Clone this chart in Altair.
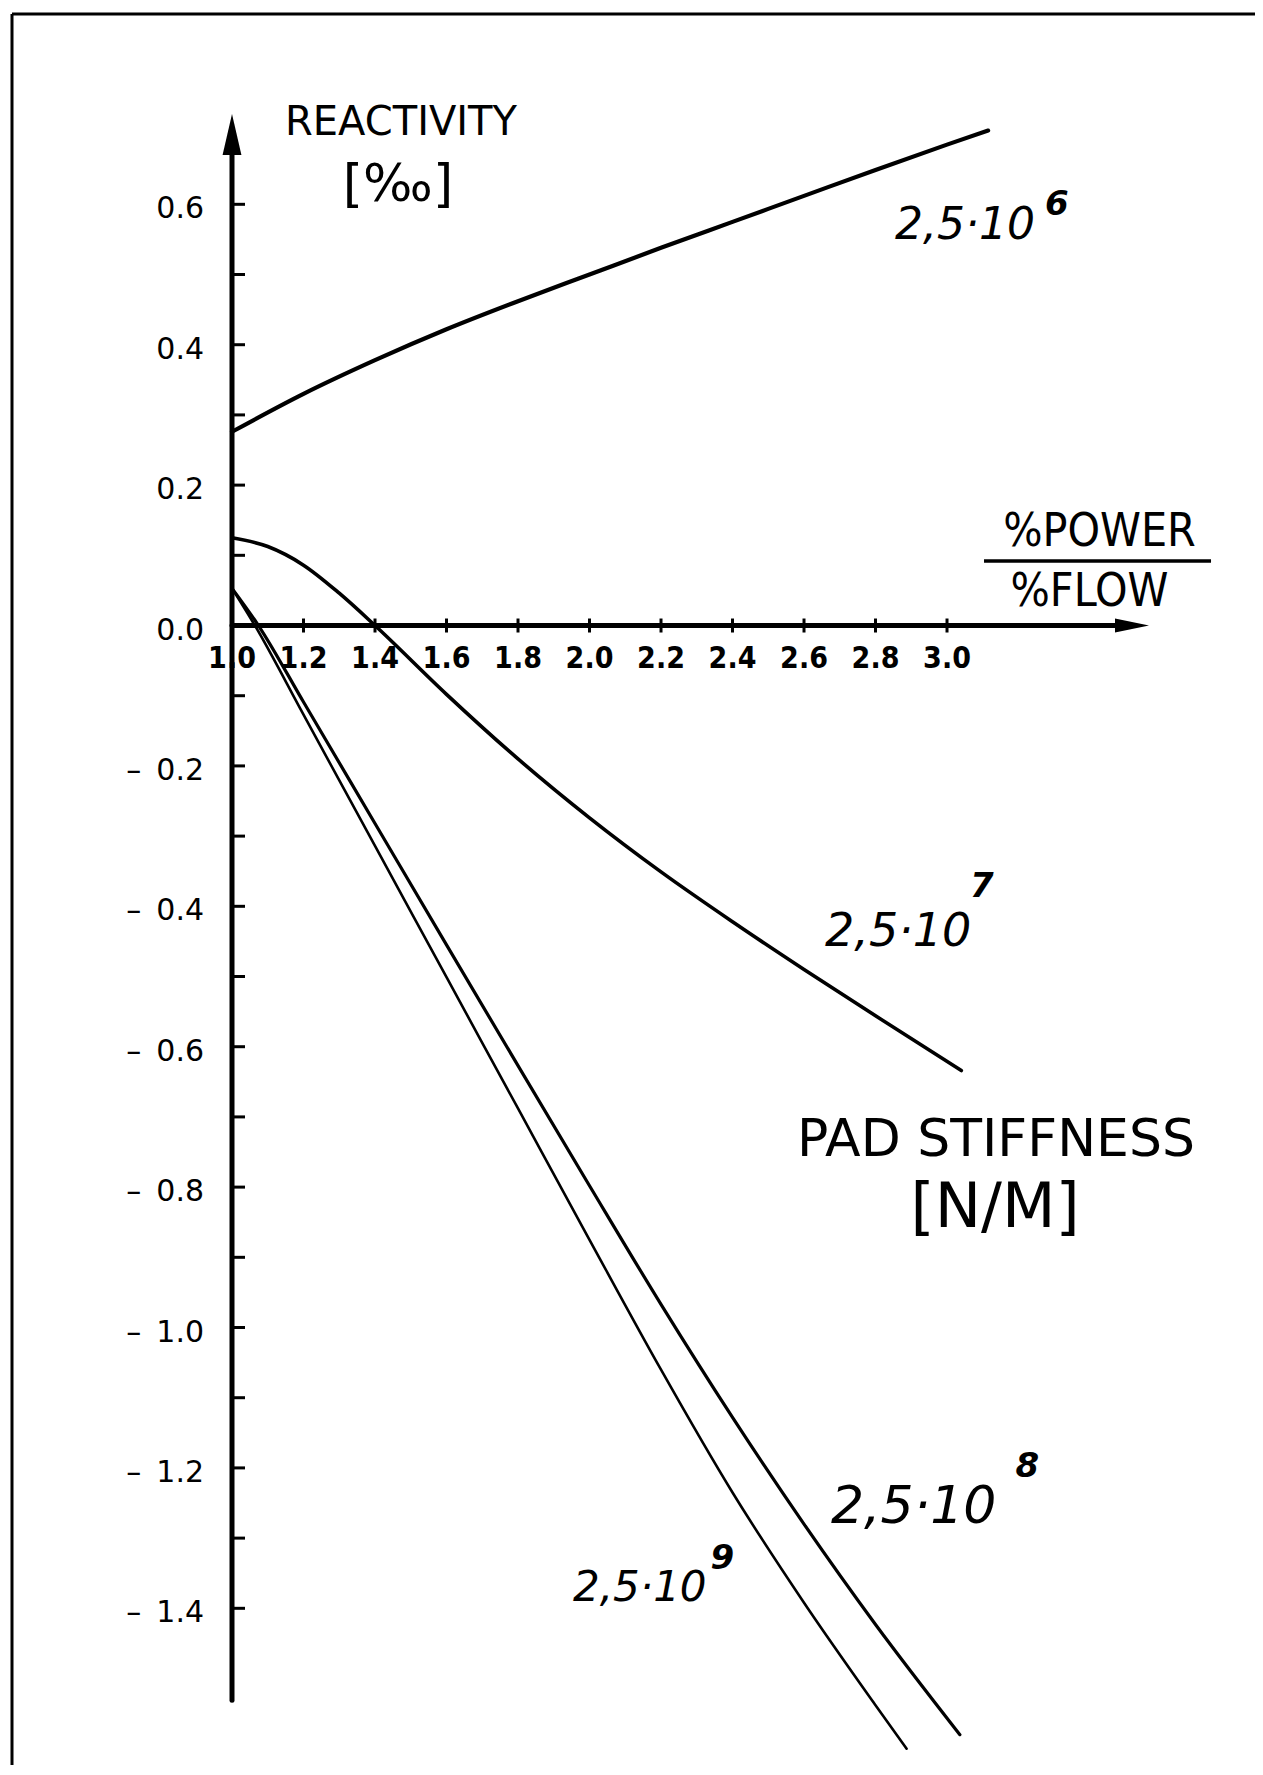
import altair as alt
import pandas as pd

# ---------------- data ----------------
# scale domains (chosen so the drawing lines up with the reference page)
X_DOMAIN = [0.3846, 3.8615]
Y_DOMAIN = [-1.6232, 0.8711]

# curves: reactivity [per mille] vs %power/%flow, one per pad stiffness
k6_x = [1.0, 1.2, 1.4, 1.6, 1.8, 2.0, 2.2, 2.4, 2.6, 2.8, 3.0, 3.115]
k6_y = [0.276, 0.330, 0.378, 0.422, 0.462, 0.500, 0.538, 0.575, 0.612, 0.649, 0.685, 0.705]

k7_x = [1.0, 1.1, 1.2, 1.3, 1.4, 1.6, 1.8, 2.0, 2.2, 2.4, 2.6, 2.8, 3.04]
k7_y = [0.125, 0.1125, 0.086, 0.046, 0.0, -0.098, -0.190, -0.274, -0.351, -0.422, -0.490, -0.556, -0.634]

k8_x = [1.0, 1.074, 1.2, 1.4, 1.6, 1.8, 2.0, 2.2, 2.4, 2.6, 2.8, 3.036]
k8_y = [0.053, 0.0, -0.109, -0.282, -0.455, -0.627, -0.798, -0.967, -1.128, -1.280, -1.423, -1.580]

k9_x = [1.0, 1.064, 1.2, 1.4, 1.6, 1.8, 2.0, 2.2, 2.4, 2.6, 2.8, 2.887]
k9_y = [0.053, 0.0, -0.127, -0.314, -0.501, -0.688, -0.875, -1.060, -1.235, -1.392, -1.538, -1.600]

# axes
x_axis_start, x_axis_end, x_arrow_at = 1.0, 3.52, 3.5175
y_axis_start, y_axis_end, y_arrow_at = -1.531, 0.68, 0.6994
x_tick_values = [1.2, 1.4, 1.6, 1.8, 2.0, 2.2, 2.4, 2.6, 2.8, 3.0]
x_label_values = [1.0, 1.2, 1.4, 1.6, 1.8, 2.0, 2.2, 2.4, 2.6, 2.8, 3.0]
x_label_texts = ["1.0", "1.2", "1.4", "1.6", "1.8", "2.0", "2.2", "2.4", "2.6", "2.8", "3.0"]
y_tick_values = [0.6, 0.5, 0.4, 0.3, 0.2, 0.1, -0.1, -0.2, -0.3, -0.4, -0.5, -0.6,
                 -0.7, -0.8, -0.9, -1.0, -1.1, -1.2, -1.3, -1.4]
y_label_values = [0.6, 0.4, 0.2, 0.0, -0.2, -0.4, -0.6, -0.8, -1.0, -1.2, -1.4]
y_label_texts = ["0.6", "0.4", "0.2", "0.0", "–\u20020.2", "–\u20020.4", "–\u20020.6",
                 "–\u20020.8", "–\u20021.0", "–\u20021.2", "–\u20021.4"]

# curve labels: mantissa text, its anchor, exponent and its anchor
curve_label_text = ["2,5·10", "2,5·10", "2,5·10", "2,5·10"]
curve_label_x = [2.8545, 2.6587, 2.6755, 1.9538]
curve_label_y = [0.5684, -0.4366, -1.2550, -1.3711]
curve_label_size = [44, 46, 52, 42]
curve_exp_text = ["6", "7", "8", "9"]
curve_exp_x = [3.2741, 3.0643, 3.1914, 2.3383]
curve_exp_y = [0.5997, -0.3718, -1.1987, -1.3301]

# axis titles / legend title
title_text = ["REACTIVITY", "[‰]", "%POWER", "%FLOW", "PAD STIFFNESS", "[N/M]"]
title_x = [1.4727, 1.4643, 3.4266, 3.3986, 3.1371, 3.1343]
title_y = [0.7165, 0.6282, 0.1332, 0.0477, -0.7329, -0.8298]
title_size = [40, 52, 46, 46, 52, 62]
fraction_bar_x = [3.1035, 3.7385]
fraction_bar_y = 0.0919

# ---------------- helpers ----------------
xs = alt.Scale(domain=X_DOMAIN, nice=False, zero=False)
ys = alt.Scale(domain=Y_DOMAIN, nice=False, zero=False)


def X(f="x"):
    return alt.X(f"{f}:Q", scale=xs, axis=None)


def Y(f="y"):
    return alt.Y(f"{f}:Q", scale=ys, axis=None)


BLACK = "#000000"
layers = []

# frame (top and left border of the drawing sheet)
layers.append(alt.Chart(pd.DataFrame({"y": [Y_DOMAIN[1]]})).mark_rule(
    color=BLACK, strokeWidth=3).encode(y=Y()))
layers.append(alt.Chart(pd.DataFrame({"x": [X_DOMAIN[0]]})).mark_rule(
    color=BLACK, strokeWidth=3).encode(x=X()))

# axis lines
layers.append(alt.Chart(pd.DataFrame({"x": [1.0], "y": [y_axis_start], "y2": [y_axis_end]}))
              .mark_rule(color=BLACK, strokeWidth=5, strokeCap="round")
              .encode(x=X(), y=Y(), y2="y2:Q"))
layers.append(alt.Chart(pd.DataFrame({"x": [x_axis_start], "x2": [x_axis_end], "y": [0.0]}))
              .mark_rule(color=BLACK, strokeWidth=5, strokeCap="round")
              .encode(x=X(), x2="x2:Q", y=Y()))

# arrowheads
layers.append(alt.Chart(pd.DataFrame({"x": [1.0], "y": [y_arrow_at]}))
              .mark_point(shape="M0,-1L0.46,1L-0.46,1Z", size=1681, filled=True,
                          color=BLACK, opacity=1, strokeWidth=0)
              .encode(x=X(), y=Y()))
layers.append(alt.Chart(pd.DataFrame({"x": [x_arrow_at], "y": [0.0]}))
              .mark_point(shape="M1,0L-1,-0.41L-1,0.41Z", size=1156, filled=True,
                          color=BLACK, opacity=1, strokeWidth=0)
              .encode(x=X(), y=Y()))

# ticks
layers.append(alt.Chart(pd.DataFrame({"x": [1.0] * len(y_tick_values), "y": y_tick_values}))
              .mark_tick(orient="horizontal", size=13, thickness=3, color=BLACK,
                         opacity=1, xOffset=6.5)
              .encode(x=X(), y=Y()))
layers.append(alt.Chart(pd.DataFrame({"x": x_tick_values, "y": [0.0] * len(x_tick_values)}))
              .mark_tick(orient="vertical", size=14, thickness=3, color=BLACK, opacity=1)
              .encode(x=X(), y=Y()))

# tick labels
layers.append(alt.Chart(pd.DataFrame({"x": x_label_values, "y": [0.0] * len(x_label_values),
                                      "t": x_label_texts}))
              .mark_text(font="DejaVu Sans Condensed, DejaVu Sans", fontSize=30,
                         fontWeight="bold", align="center", baseline="middle", dy=33,
                         color=BLACK)
              .encode(x=X(), y=Y(), text="t:N"))
layers.append(alt.Chart(pd.DataFrame({"x": [1.0] * len(y_label_values), "y": y_label_values,
                                      "t": y_label_texts}))
              .mark_text(font="DejaVu Sans", fontSize=30, align="right", baseline="middle",
                         dx=-28, dy=5, color=BLACK)
              .encode(x=X(), y=Y(), text="t:N"))

# curves
for cx, cy, w in [(k6_x, k6_y, 4.2), (k7_x, k7_y, 3.6), (k8_x, k8_y, 3.2), (k9_x, k9_y, 2.6)]:
    layers.append(alt.Chart(pd.DataFrame({"x": cx, "y": cy}))
                  .mark_line(color=BLACK, strokeWidth=w, interpolate="monotone",
                             strokeCap="round")
                  .encode(x=X(), y=Y()))

# curve labels
for t, lx, ly, fs, e, ex, ey in zip(curve_label_text, curve_label_x, curve_label_y,
                                    curve_label_size, curve_exp_text, curve_exp_x, curve_exp_y):
    layers.append(alt.Chart(pd.DataFrame({"x": [lx], "y": [ly], "t": [t]}))
                  .mark_text(font="DejaVu Sans", fontSize=fs, fontStyle="italic",
                             align="left", baseline="middle", color=BLACK)
                  .encode(x=X(), y=Y(), text="t:N"))
    layers.append(alt.Chart(pd.DataFrame({"x": [ex], "y": [ey], "t": [e]}))
                  .mark_text(font="DejaVu Sans", fontSize=34, fontStyle="italic",
                             fontWeight="bold", align="left", baseline="middle", color=BLACK)
                  .encode(x=X(), y=Y(), text="t:N"))

# axis titles and legend title
title_fonts = ["DejaVu Sans", "DejaVu Sans", "DejaVu Sans Condensed, DejaVu Sans",
               "DejaVu Sans Condensed, DejaVu Sans", "DejaVu Sans", "DejaVu Sans"]
for t, tx, ty, fs, fnt in zip(title_text, title_x, title_y, title_size, title_fonts):
    layers.append(alt.Chart(pd.DataFrame({"x": [tx], "y": [ty], "t": [t]}))
                  .mark_text(font=fnt, fontSize=fs, align="center", baseline="middle",
                             color=BLACK)
                  .encode(x=X(), y=Y(), text="t:N"))

# fraction bar between %POWER and %FLOW
layers.append(alt.Chart(pd.DataFrame({"x": [fraction_bar_x[0]], "x2": [fraction_bar_x[1]],
                                      "y": [fraction_bar_y]}))
              .mark_rule(color=BLACK, strokeWidth=3.5)
              .encode(x=X(), x2="x2:Q", y=Y()))

chart = (alt.layer(*layers)
         .properties(width=1243, height=1751,
                     padding={"left": 4, "top": 6, "right": 0, "bottom": 0},
                     autosize=alt.AutoSizeParams(type="none"),
                     background="white")
         .configure_view(stroke=None))

chart.save("out.html", embed_options={"renderer": "svg", "actions": False})
